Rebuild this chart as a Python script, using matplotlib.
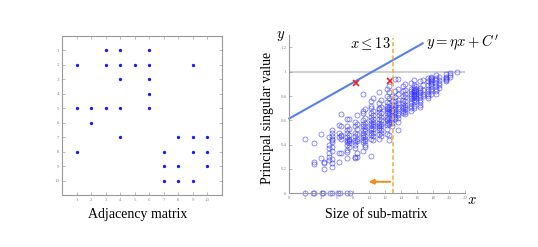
import numpy as np
import matplotlib
matplotlib.use("Agg")
import matplotlib.pyplot as plt

plt.rcParams['font.family'] = ['Liberation Serif', 'DejaVu Serif']
plt.rcParams['mathtext.fontset'] = 'cm'

# adjacency matrix: (row, col) of nonzero entries
adj_rows = [1, 1, 1, 2, 2, 2, 2, 2, 2, 3, 3, 4, 5, 5, 5, 5, 5, 6,
            7, 7, 7, 7, 8, 8, 8, 8, 9, 9, 9, 10, 10, 10]
adj_cols = [3, 4, 6, 1, 3, 4, 5, 6, 9, 4, 6, 6, 1, 2, 3, 4, 6, 2,
            4, 8, 9, 10, 1, 7, 9, 10, 7, 8, 10, 7, 8, 9]

# sub-matrix sizes that give zero principal singular value
zero_sizes = [2.0, 3.0, 3.1, 4.05, 4.2, 5.1, 5.3, 6.1, 6.3, 7.2, 7.6]

# (size, [principal singular values]) columns of the scatter
psv_groups = [
    (2.0, [0.45]),
    (3.1, [0.41, 0.26, 0.24]),
    (4.0, [0.49, 0.29]),
    (4.3, [0.26, 0.25, 0.20]),
    (5.0, [0.46, 0.40, 0.37, 0.33, 0.30, 0.27]),
    (5.3, [0.52, 0.50, 0.47, 0.45, 0.44, 0.42, 0.38, 0.35, 0.28, 0.25, 0.22]),
    (6.2, [0.56, 0.50, 0.46, 0.33, 0.26]),
    (6.5, [0.65, 0.55, 0.48, 0.47, 0.45, 0.33]),
    (7.2, [0.61, 0.55, 0.52, 0.50, 0.46, 0.44, 0.42, 0.40, 0.36, 0.34, 0.29]),
    (7.5, [0.61, 0.53, 0.48, 0.45, 0.44, 0.43, 0.41, 0.38]),
    (8.2, [0.59, 0.55, 0.50, 0.47, 0.44, 0.42, 0.40, 0.37, 0.30, 0.29]),
    (8.5, [0.64, 0.57, 0.53, 0.49, 0.45, 0.43, 0.33, 0.30]),
    (9.2, [0.82, 0.68, 0.66, 0.60, 0.57, 0.55, 0.52, 0.50, 0.48, 0.46, 0.44, 0.42, 0.35]),
    (9.5, [0.69, 0.62, 0.58, 0.55, 0.53, 0.51, 0.47, 0.45, 0.43, 0.40, 0.38]),
    (10.2, [0.76, 0.72, 0.70, 0.66, 0.63, 0.60, 0.58, 0.56, 0.54, 0.52, 0.50, 0.48, 0.45, 0.31]),
    (10.5, [0.78, 0.68, 0.64, 0.61, 0.59, 0.57, 0.55, 0.53, 0.50, 0.47, 0.44]),
    (11.2, [0.83, 0.74, 0.70, 0.69, 0.67, 0.64, 0.61, 0.58, 0.56, 0.55, 0.54, 0.52, 0.49, 0.45]),
    (11.5, [0.77, 0.71, 0.66, 0.63, 0.60, 0.57, 0.55, 0.52, 0.50, 0.47]),
    (12.2, [0.86, 0.80, 0.75, 0.72, 0.70, 0.69, 0.68, 0.66, 0.63, 0.61, 0.60, 0.58, 0.56, 0.53, 0.49]),
    (12.5, [0.88, 0.83, 0.78, 0.74, 0.71, 0.69, 0.67, 0.65, 0.62, 0.59, 0.57, 0.48, 0.44]),
    (12.9, [0.80, 0.76, 0.73, 0.70, 0.68, 0.66, 0.64, 0.62, 0.60, 0.58, 0.55]),
    (13.2, [0.94, 0.84, 0.79, 0.76, 0.73, 0.71, 0.69, 0.67, 0.65, 0.63, 0.61]),
    (13.6, [0.94, 0.86, 0.82, 0.77, 0.74, 0.71, 0.69, 0.66, 0.64, 0.62, 0.59, 0.52]),
    (14.2, [0.88, 0.84, 0.80, 0.77, 0.74, 0.72, 0.70, 0.68, 0.66]),
    (14.5, [0.90, 0.85, 0.82, 0.79, 0.76, 0.73, 0.71, 0.69, 0.67, 0.65]),
    (15.2, [0.91, 0.86, 0.84, 0.82, 0.80, 0.78, 0.76, 0.74, 0.72, 0.70, 0.68]),
    (15.6, [0.93, 0.89, 0.87, 0.85, 0.84, 0.83, 0.82, 0.81, 0.80, 0.79, 0.77, 0.75, 0.72, 0.70]),
    (15.9, [0.88, 0.86, 0.84, 0.82, 0.80, 0.78, 0.76]),
    (16.4, [0.92, 0.87, 0.85, 0.83, 0.81, 0.79, 0.77, 0.75, 0.73, 0.71]),
    (16.8, [0.93, 0.89, 0.85, 0.82, 0.80]),
    (17.4, [0.95, 0.92, 0.89, 0.86, 0.84, 0.82, 0.80, 0.78]),
    (17.7, [0.96, 0.95, 0.94, 0.93, 0.92, 0.91, 0.90, 0.88, 0.86, 0.84, 0.82]),
    (18.4, [0.97, 0.95, 0.93, 0.91, 0.88, 0.86, 0.84, 0.82]),
    (18.8, [0.96, 0.93, 0.91, 0.89, 0.87]),
    (19.6, [0.98, 0.96, 0.95, 0.94, 0.93, 0.92]),
    (20.1, [0.99, 0.97, 0.96]),
    (21.0, [1.0]),
]

# rejected points (red crosses)
cross_x = [8.3, 12.55]
cross_y = [0.905, 0.926]

# bounding line y = eta*x + C'
eta = 0.037
c_prime = 0.615
line_x = [0.0, 16.7]
x_cut = 13

fig = plt.figure(figsize=(5.38, 2.47), dpi=100)

# ---- left: adjacency matrix
ax1 = fig.add_axes([0.1152, 0.2105, 0.2974, 0.6437])
ax1.plot(adj_cols, adj_rows, 'o', color='#1a1aff', ms=2.4, mew=0)
ax1.set_xlim(0, 11)
ax1.set_ylim(11, 0)
ax1.set_xticks(range(1, 11))
ax1.set_yticks(range(1, 11))
ax1.tick_params(direction='in', length=2, width=0.4, labelsize=3.5,
                colors='#888888', top=True, right=True, pad=2)
for s in ax1.spines.values():
    s.set_color('#999999')
    s.set_linewidth(0.8)
fig.text(0.2565, 0.13, 'Adjacency matrix', ha='center', va='center', fontsize=10)

# ---- right: principal singular value vs size
ax2 = fig.add_axes([0.5377, 0.2174, 0.3266, 0.640])
xs = [g[0] for g in psv_groups for _ in g[1]]
ys = [v for g in psv_groups for v in g[1]]
ax2.plot(xs, ys, 'o', mfc='none', mec='#2a2aff', mew=0.55, ms=3.6, alpha=0.65)
ax2.plot(zero_sizes, [0] * len(zero_sizes), 'o', mfc='none', mec='#2a2aff',
         mew=0.55, ms=3.6, alpha=0.65, clip_on=False)
ax2.axhline(1.0, color='#cccccc', lw=1.3, zorder=0)
lx = np.array(line_x)
ax2.plot(lx, eta * lx + c_prime, color='#5580ee', lw=1.5, clip_on=False)
ax2.plot(cross_x, cross_y, 'x', color='#ee2222', ms=4, mew=1.2)
ax2.plot([x_cut, x_cut], [0, 1.28], '--', color='#f5b040', lw=1.2,
         dashes=(2.5, 1.5), clip_on=False)
ax2.annotate('', xy=(9.6, 0.095), xytext=(13, 0.095),
             arrowprops=dict(arrowstyle='-|>', color='#ef8c1a', lw=1.4,
                             mutation_scale=7))
ax2.set_xlim(0, 22)
ax2.set_ylim(0, 1.3)
ax2.set_xticks(range(0, 23, 2))
ax2.set_yticks([0, 0.2, 0.4, 0.6, 0.8, 1, 1.2])
ax2.set_yticklabels(['0', '0.2', '0.4', '0.6', '0.8', '1', '1.2'])
ax2.tick_params(direction='in', length=2, width=0.4, labelsize=3.5,
                colors='#888888', pad=2)
for side in ['top', 'right']:
    ax2.spines[side].set_visible(False)
for side in ['left', 'bottom']:
    ax2.spines[side].set_color('#999999')
    ax2.spines[side].set_linewidth(0.8)

ax2.text(10.2, 1.235, r'$x \leq 13$', fontsize=10.5, ha='center', va='center')
ax2.text(17.1, 1.24, r"$y = \eta x + C'$", fontsize=10.5, ha='left', va='center')
ax2.text(-1.1, 1.29, r'$y$', fontsize=10.5, ha='center', va='center')
ax2.text(22.8, -0.06, r'$x$', fontsize=10.5, ha='center', va='center')

fig.text(0.498, 0.522, 'Principal singular value', rotation=90,
         ha='center', va='center', fontsize=10)
fig.text(0.70, 0.13, 'Size of sub-matrix', ha='center', va='center', fontsize=10)

fig.savefig('out.png', dpi=100)
